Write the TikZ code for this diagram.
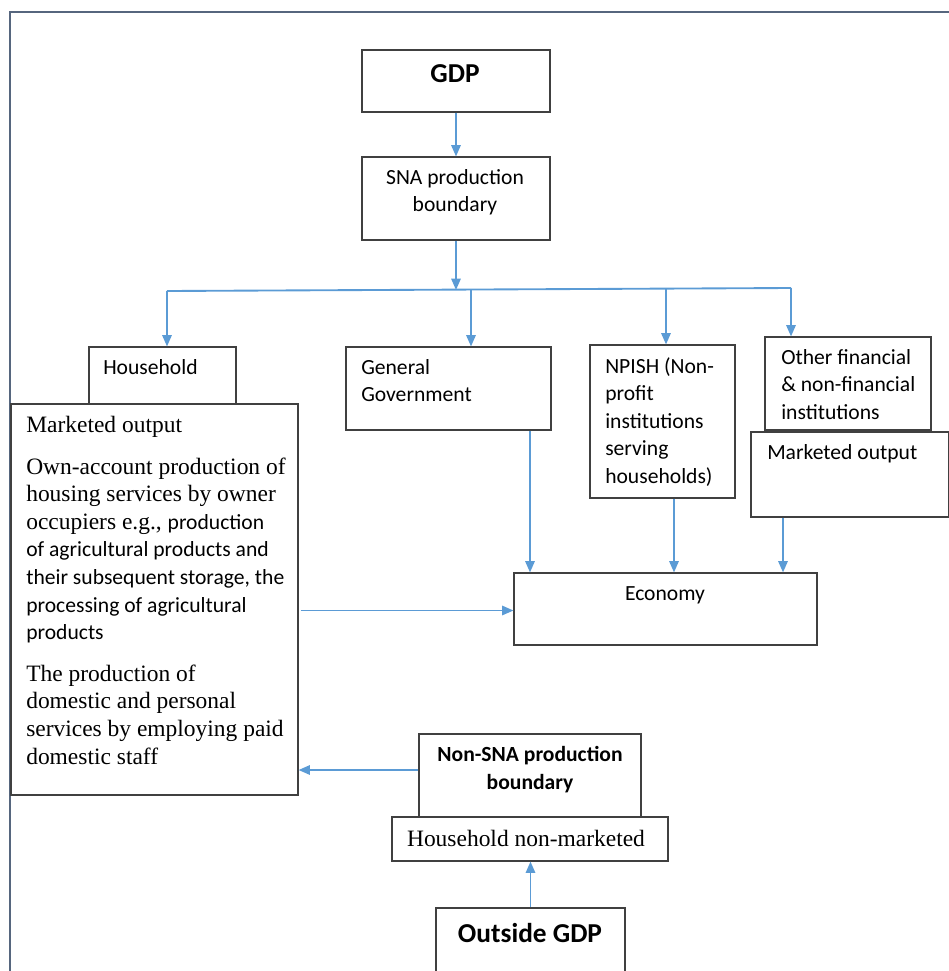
\documentclass[tikz,border=0pt]{standalone}
\usepackage{fontspec}
\setmainfont{Liberation Serif}
\newfontfamily\calibri{Carlito}
\usepackage{tikz}
\usetikzlibrary{arrows.meta,fit,calc}
\usepackage{xcolor}
\definecolor{arrowblue}{HTML}{5B9BD5}
\definecolor{framegray}{HTML}{56667E}
\definecolor{boxline}{HTML}{404040}
\newcommand{\calsm}{\calibri\fontsize{16.2}{20.7}\selectfont}
\newcommand{\calbig}{\calibri\bfseries\fontsize{20.5}{25}\selectfont}
\newcommand{\timesn}{\fontsize{17.6}{20.7}\selectfont}

\begin{document}
\begin{tikzpicture}[x=0.75pt, y=-0.75pt,
    box/.style={draw=boxline, line width=0.8pt, inner sep=0pt},
    txt/.style={inner sep=0pt, anchor=north west, align=left, font=\calsm},
    arr/.style={draw=arrowblue, line width=1.4pt, -{Triangle[length=8.5pt,width=7pt]}},
    busline/.style={draw=arrowblue, line width=1.4pt}]
    \useasboundingbox (0,0) rectangle (949,971);

    % Page frame
    \draw[framegray, line width=1.1pt] (10,971) -- (10,12) -- (949,12);

    % Top of the tree
    \node[box, fit={(362,50) (550,112)}] (gdp) {};
    \node[inner sep=0pt, anchor=north, font=\calbig] (gdp-t) at (455,64) {GDP};
    \node[box, fit={(362,157) (550,240)}] (sna) {};
    \node[txt, anchor=north, align=center] (sna-t) at (455,169) {SNA production\\boundary};

    % Sectors
    \node[box, fit={(89,347) (236,404)}] (hh) {};
    \node[txt] (hh-t) at (103,359) {Household};
    \node[box, fit={(11,404) (298,795)}] (hhout) {};
    \node[txt, font=\timesn] (hhout-t) at (26,416) {Marketed output\\[10.5pt]
        Own-account production of\\
        housing services by owner\\
        occupiers e.g., {\calsm production}\\
        {\calsm of agricultural products and}\\
        {\calsm their subsequent storage, the}\\
        {\calsm processing of agricultural}\\
        {\calsm products}\\[10.5pt]
        The production of\\
        domestic and personal\\
        services by employing paid\\
        domestic staff};

    \node[box, fit={(346,347) (551,430)}] (gengov) {};
    \node[txt] (gengov-t) at (361,359) {General\\Government};

    \node[box, fit={(590,345) (735,498)}] (npish) {};
    \node[txt] (npish-t) at (605,357) {NPISH (Non-\\profit\\institutions\\serving\\households)};

    \node[box, fit={(765,337) (931,430)}] (other) {};
    \node[txt] (other-t) at (781,349) {Other financial\\\& non-financial\\institutions};
    \node[box, fit={(751,432) (949,517)}] (mkt) {};
    \node[txt] (mkt-t) at (767,444) {Marketed output};

    \node[box, fit={(514,573) (817,645)}] (econ) {};
    \node[txt, anchor=north] (econ-t) at (665,586) {Economy};

    % Outside the boundary
    \node[box, fit={(419,734) (641,817)}] (nonsna) {};
    \node[txt, anchor=north, align=center, font=\calsm\bfseries] (nonsna-t) at (530,746) {Non-SNA production\\boundary};
    \node[box, fit={(392,817) (668,861)}] (hhnm) {};
    \node[txt, anchor=north, font=\timesn] (hhnm-t) at (526,830) {Household non-marketed};
    \node[box, fit={(436,908) (625,975)}] (outside) {};
    \node[inner sep=0pt, anchor=north, font=\calbig] (outside-t) at (530,923) {Outside GDP};

    % Connectors
    \coordinate (b1) at (167,291);
    \coordinate (b2) at (471,290);
    \coordinate (b3) at (666,289);
    \coordinate (b4) at (791,288);
    \draw[arr] (gdp.south) -- (sna.north);
    \draw[arr] (sna.south) -- (sna.south |- b2);
    \draw[busline] (b1) -- (b4);
    \draw[arr] (b1) -- (b1 |- hh.north);
    \draw[arr] (b2) -- (b2 |- gengov.north);
    \draw[arr] (b3) -- (b3 |- npish.north);
    \draw[arr] (b4) -- (b4 |- other.north);

    \draw[arr] ($(gengov.south)+(81.5,0)$) coordinate (g1) -- (g1 |- econ.north);
    \draw[arr] ($(npish.south)+(11.5,0)$) coordinate (n1) -- (n1 |- econ.north);
    \draw[arr] ($(mkt.south)+(-67,0)$) coordinate (m1) -- (m1 |- econ.north);
    \draw[arr] ($(hhout.east)+(2,11)$) coordinate (h1) -- (h1 -| econ.west);
    \draw[arr] ($(nonsna.west)+(0,-5.5)$) coordinate (s1) -- (s1 -| hhout.east);
    \draw[arr] (outside.north) -- (outside.north |- hhnm.south);
\end{tikzpicture}
\end{document}
